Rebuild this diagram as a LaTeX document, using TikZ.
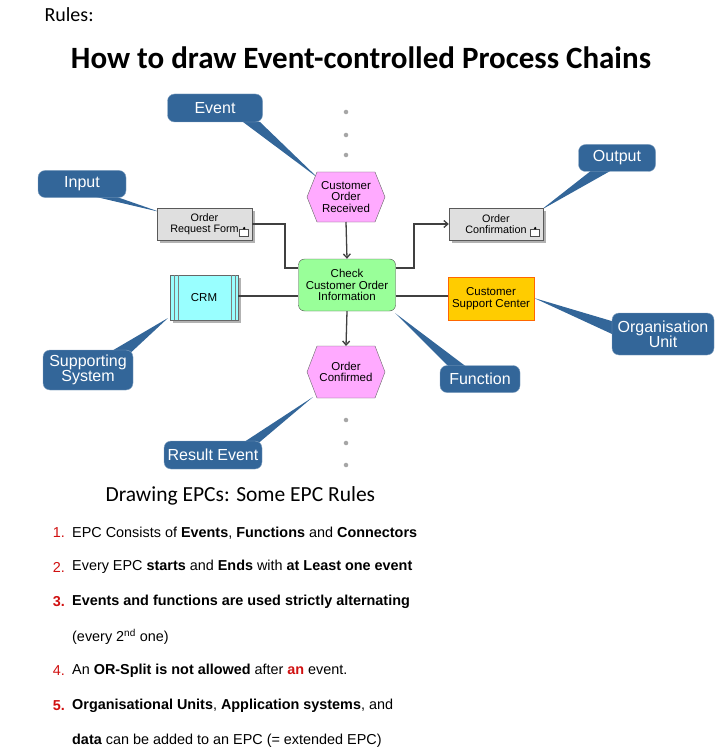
\documentclass[tikz,border=0pt]{standalone}
\usepackage{fontspec}
\setmainfont{Liberation Sans}
\newfontfamily\calfnt{Carlito}
\usetikzlibrary{calc,arrows.meta}
\definecolor{cbl}{HTML}{336699}
\definecolor{evp}{HTML}{FFAAFF}
\definecolor{fng}{HTML}{99FF99}
\definecolor{crm}{HTML}{99FFFF}
\definecolor{org}{HTML}{FFCC00}
\definecolor{rd}{HTML}{D01010}
\begin{document}
\begin{tikzpicture}[x=1pt,y=-1pt,
 call/.style={fill=cbl,draw=cbl!60!white,rounded corners=7pt,text=white,font=\fontsize{16}{14}\selectfont,align=center,inner sep=0pt},
 doc/.style={fill=gray!25,draw=gray!70!black,font=\fontsize{10.8}{11}\selectfont,align=center,inner sep=0pt},
 lab/.style={font=\fontsize{11.5}{11.5}\selectfont,align=center,inner sep=0pt},
 con/.style={draw=black!75,line width=1.3pt},
 arr/.style={con,-{Straight Barb[length=4pt,width=7pt]}},
 dot/.style={fill=gray!70,circle,inner sep=1.6pt},
 li/.style={anchor=west,font=\fontsize{14.4}{14}\selectfont,inner sep=0pt}]
\useasboundingbox (0,0) rectangle (715,754);
% header
\node[anchor=west,font=\calfnt\fontsize{20}{20}\selectfont] (rules) at (41,15) {Rules:};
\node[font=\calfnt\bfseries\fontsize{31}{31}\selectfont] (title) at (361,58) {How to draw Event-controlled Process Chains};
% dots
\foreach \y [count=\i] in {112,135,155,420,443,465} \node[dot] (d\i) at (346,\y) {};
% callout tails
\fill[cbl] (235,116) -- (260,122) -- (318,178) -- cycle;
\fill[cbl] (92,196) -- (114,196) -- (160,212) -- cycle;
\fill[cbl] (592,170) -- (612,170) -- (541,210) -- cycle;
\fill[cbl] (625,325) -- (625,340) -- (534,298) -- cycle;
\fill[cbl] (110,352) -- (125,358) -- (168,318) -- cycle;
\fill[cbl] (450,368) -- (468,368) -- (395,313) -- cycle;
\fill[cbl] (235,448) -- (255,446) -- (313,397) -- cycle;
% callouts
\node[call,minimum width=95,minimum height=28] (cev) at (215,108) {Event};
\node[call,minimum width=88,minimum height=27] (cin) at (82,184) {Input};
\node[call,minimum width=77,minimum height=27] (cout) at (617,158) {Output};
\node[call,minimum width=102,minimum height=42,font=\fontsize{16}{15}\selectfont] (corg) at (663,334) {Organisation\\Unit};
\node[call,minimum width=90,minimum height=40,font=\fontsize{16}{15}\selectfont] (csup) at (88,370) {Supporting\\System};
\node[call,minimum width=80,minimum height=27] (cfn) at (480,379) {Function};
\node[call,minimum width=98,minimum height=28] (cres) at (213,455) {Result Event};
% events
\filldraw[fill=evp,draw=black!60] (307,197) -- (317,172) -- (375,172) -- (385,197) -- (375,222) -- (317,222) -- cycle;
\node[lab] (e1) at (346,197) {Customer\\Order\\Received};
\filldraw[fill=evp,draw=black!60] (307,372) -- (317,346) -- (375,346) -- (385,372) -- (375,398) -- (317,398) -- cycle;
\node[lab] (e2) at (346,372) {Order\\Confirmed};
% function
\node[fill=fng,draw=black!70,rounded corners=6pt,minimum width=97,minimum height=52,lab] (fn) at (347,285) {Check\\Customer Order\\Information};
% documents
\fill[gray!60] (160,211) rectangle (255,243);
\node[doc,minimum width=95,minimum height=32] (d1) at (204.5,224) {Order\\Request Form\hspace{16pt}};
\fill[gray!60] (452,211) rectangle (546,243);
\node[doc,minimum width=94,minimum height=32] (d2) at (496,224) {Order\\Confirmation\hspace{16pt}};
\foreach \n in {d1,d2}{\draw[gray!60!black,fill=white] ($(\n.south east)+(-13,-4)$) rectangle ($(\n.south east)+(-4,-11)$);
 \fill ($(\n.south east)+(-8,-12)$) circle (1.3pt);}
% CRM
\fill[gray!60] (173,278) rectangle (241,323);
\node[fill=crm,draw=black!60,minimum width=68,minimum height=45,lab] (crm) at (204,297.5) {CRM};
\foreach \x in {174,178,231,235} \draw[black!50] (\x,275) -- (\x,320);
% org unit
\node[fill=org,draw=orange!80!red,minimum width=86,minimum height=43,lab] (csc) at (491,298.5) {Customer\\Support Center};
% connectors
\draw[arr] (e1.south |- 0,222) -- (fn.north);
\draw[arr] (fn.south) -- (346,346);
\draw[con] (d1.east) -- (285,224) -- (285,268) -- (fn.west |- 0,268);
\draw[arr] (fn.east |- 0,268) -- (414,268) -- (414,224) -- (d2.west);
\draw[con] (crm.east |- 0,296) -- (fn.west |- 0,296);
\draw[con] (fn.east |- 0,296) -- (csc.west |- 0,296);
% rules
\node[anchor=west,font=\calfnt\fontsize{21.5}{21}\selectfont] (h) at (102,496) {Drawing EPCs: Some EPC Rules};
\node[li,anchor=east,text=rd] (n1) at (65,533) {1.};
\node[li] (t1) at (72,533) {EPC Consists of \textbf{Events}, \textbf{Functions} and \textbf{Connectors}};
\node[li,anchor=east,text=rd] (n2) at (65,567) {2.};
\node[li] (t2) at (72,567) {Every EPC \textbf{starts} and \textbf{Ends} with \textbf{at Least one event}};
\node[li,anchor=east,text=rd,font=\bfseries\fontsize{14.4}{14}\selectfont] (n3) at (65,602) {3.};
\node[li,font=\bfseries\fontsize{14.4}{14}\selectfont] (t3) at (72,602) {Events and functions are used strictly alternating};
\node[li] (t3b) at (72,637) {(every 2\textsuperscript{nd} one)};
\node[li,anchor=east,text=rd] (n4) at (65,671) {4.};
\node[li] (t4) at (72,671) {An \textbf{OR-Split is not allowed} after \textcolor{rd}{\textbf{an}} event.};
\node[li,anchor=east,text=rd,font=\bfseries\fontsize{14.4}{14}\selectfont] (n5) at (65,706) {5.};
\node[li] (t5) at (72,706) {\textbf{Organisational Units}, \textbf{Application systems}, and};
\node[li] (t5b) at (72,741) {\textbf{data} can be added to an EPC (= extended EPC)};
\end{tikzpicture}
\end{document}
